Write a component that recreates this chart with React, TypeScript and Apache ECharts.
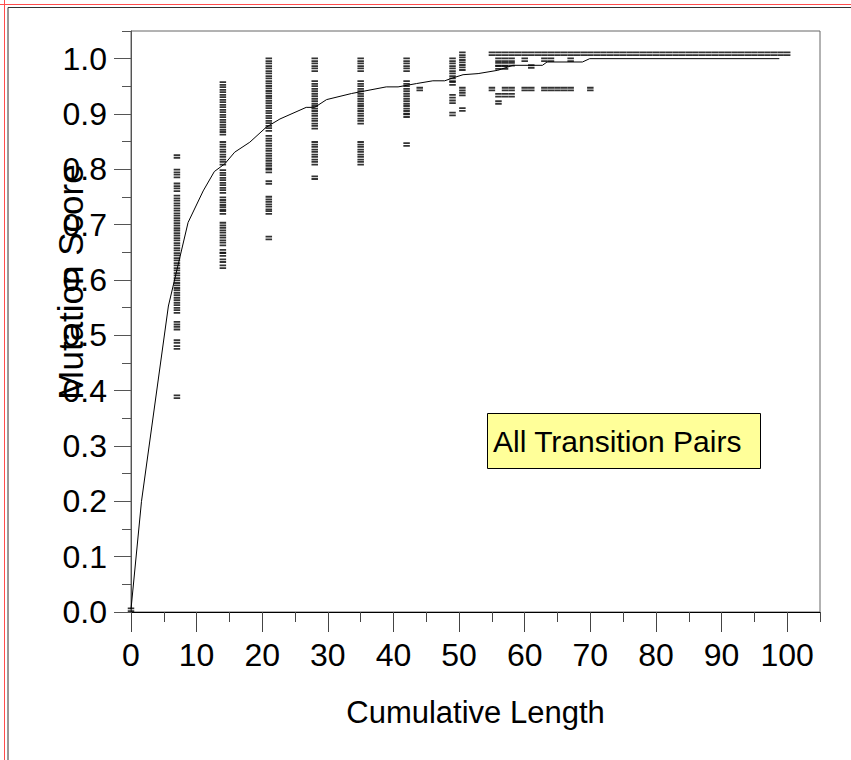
import React, { useEffect, useRef } from "react";
import * as echarts from "echarts";

// ---- Data ----
const xMajorTicks = [0, 10, 20, 30, 40, 50, 60, 70, 80, 90, 100];
const yMajorTicks = [0, 0.1, 0.2, 0.3, 0.4, 0.5, 0.6, 0.7, 0.8, 0.9, 1.0];

const col0 = [0.004];
const col7 = [0.823, 0.797, 0.788, 0.772, 0.763, 0.75, 0.741, 0.732, 0.723, 0.714, 0.705, 0.696, 0.687, 0.678, 0.669, 0.66, 0.651, 0.642, 0.633, 0.624, 0.615, 0.606, 0.597, 0.588, 0.579, 0.57, 0.561, 0.552, 0.543, 0.522, 0.513, 0.489, 0.478, 0.389];
const col14 = [0.955, 0.946, 0.937, 0.928, 0.919, 0.91, 0.901, 0.892, 0.883, 0.874, 0.865, 0.847, 0.838, 0.829, 0.82, 0.811, 0.796, 0.787, 0.778, 0.769, 0.76, 0.747, 0.738, 0.729, 0.722, 0.701, 0.692, 0.683, 0.674, 0.665, 0.652, 0.646, 0.635, 0.624];
const col21 = [0.998, 0.989, 0.98, 0.971, 0.962, 0.953, 0.944, 0.935, 0.926, 0.917, 0.908, 0.899, 0.89, 0.881, 0.872, 0.858, 0.849, 0.84, 0.831, 0.822, 0.813, 0.804, 0.797, 0.776, 0.748, 0.739, 0.73, 0.722, 0.676];
const col28 = [0.998, 0.989, 0.98, 0.957, 0.948, 0.939, 0.93, 0.921, 0.912, 0.903, 0.894, 0.885, 0.876, 0.847, 0.838, 0.829, 0.82, 0.811, 0.785];
const col35 = [0.998, 0.989, 0.98, 0.957, 0.948, 0.939, 0.93, 0.921, 0.912, 0.903, 0.894, 0.885, 0.847, 0.838, 0.829, 0.82, 0.811];
const col42 = [0.998, 0.989, 0.98, 0.957, 0.948, 0.939, 0.93, 0.921, 0.912, 0.903, 0.897, 0.845];
const col44 = [0.945];
const col49 = [0.998, 0.989, 0.98, 0.971, 0.962, 0.955, 0.932, 0.922, 0.9];
const col50 = [1.009, 1.0, 0.991, 0.982, 0.945, 0.936, 0.908];

const columnX = [0, 7, 14, 21, 28, 35, 42, 44, 49, 50.5];
const columnValues = [col0, col7, col14, col21, col28, col35, col42, col44, col49, col50];

const tailX = [55, 56, 57, 58, 59, 60, 61, 62, 63, 64, 65, 66, 67, 68, 69, 70, 71, 72, 73, 74, 75, 76, 77, 78, 79, 80, 81, 82, 83, 84, 85, 86, 87, 88, 89, 90, 91, 92, 93, 94, 95, 96, 97, 98, 99, 100];
const tailValue = 1.009;

const tailExtra: [number, number][] = [
  [56, 0.998], [57, 0.998], [58, 0.998], [60, 0.998], [63, 0.998], [64, 0.998], [67, 0.998],
  [56, 0.99], [57, 0.99], [58, 0.99],
  [56, 0.984], [57, 0.984], [61, 0.986],
  [55, 0.945], [57, 0.945], [58, 0.945], [60, 0.945], [61, 0.945], [63, 0.945], [64, 0.945], [65, 0.945], [66, 0.945], [67, 0.945], [70, 0.945],
  [56, 0.934], [57, 0.934], [58, 0.934],
  [56, 0.921],
];

const meanX = [0, 1.6, 5.7, 8.7, 11, 12.7, 14.3, 15.8, 18.1, 20.6, 22.7, 26.7, 28, 29.8, 33.6, 38.9, 40.7, 43.5, 46, 47.8, 49, 50.6, 52.9, 55.9, 58.2, 62.7, 63.4, 68.8, 69.9, 98.8];
const meanY = [0.005, 0.2, 0.553, 0.704, 0.761, 0.796, 0.81, 0.831, 0.849, 0.876, 0.891, 0.912, 0.912, 0.926, 0.937, 0.949, 0.949, 0.955, 0.96, 0.96, 0.965, 0.971, 0.973, 0.979, 0.988, 0.988, 0.994, 0.994, 1.0, 1.0];

const FONT = "'Liberation Sans', Arial, sans-serif";

export default function App() {
  const ref = useRef<HTMLDivElement>(null);

  useEffect(() => {
    if (!ref.current) return;
    const chart = echarts.init(ref.current, undefined, { renderer: "svg" });

    const scatterData: number[][] = [];
    columnX.forEach((x, i) => {
      columnValues[i].forEach((v) => scatterData.push([x, v]));
    });
    tailX.forEach((x) => scatterData.push([x, tailValue]));
    tailExtra.forEach((p) => scatterData.push([p[0], p[1]]));

    const lineData = meanX.map((x, i) => [x, meanY[i]]);

    const option: any = {
      animation: false,
      backgroundColor: "#fff",
      grid: {
        left: 131,
        right: 31,
        top: 31,
        bottom: 148,
        show: true,
        borderColor: "#666",
        borderWidth: 1,
        backgroundColor: "transparent",
      },
      xAxis: [
        {
          type: "value",
          position: "bottom",
          min: 0,
          max: 105,
          interval: 5,
          axisLine: { show: true, onZero: false, lineStyle: { color: "#000", width: 1 } },
          axisTick: { show: true, length: 10, lineStyle: { color: "#444" } },
          axisLabel: {
            margin: 27,
            fontSize: 32,
            fontFamily: FONT,
            color: "#000",
            formatter: (v: number) => (Math.round(v) % 10 === 0 ? String(Math.round(v)) : ""),
          },
          splitLine: { show: false },
          name: "Cumulative Length",
          nameLocation: "middle",
          nameGap: 85,
          nameMoveOverlap: false,
          nameTextStyle: { fontSize: 31, fontFamily: FONT, color: "#000" },
        },
        {
          type: "value",
          position: "bottom",
          min: 0,
          max: 105,
          interval: 10,
          axisLine: { show: false, onZero: false },
          axisTick: { show: true, length: 20, customValues: xMajorTicks, lineStyle: { color: "#444" } },
          axisLabel: { show: false },
          splitLine: { show: false },
        },
      ],
      yAxis: [
        {
          type: "value",
          position: "left",
          min: 0,
          max: 1.05,
          interval: 0.05,
          axisLine: { show: true, onZero: false, lineStyle: { color: "#555", width: 1 } },
          axisTick: { show: true, length: 9, lineStyle: { color: "#555" } },
          axisLabel: {
            margin: 24,
            fontSize: 32,
            fontFamily: FONT,
            color: "#000",
            formatter: (v: number) => (Math.round(v * 100) % 10 === 0 ? v.toFixed(1) : ""),
          },
          splitLine: { show: false },
        },
        {
          type: "value",
          position: "left",
          min: 0,
          max: 1.05,
          interval: 0.1,
          axisLine: { show: false, onZero: false },
          axisTick: { show: true, length: 17, customValues: yMajorTicks, lineStyle: { color: "#555" } },
          axisLabel: { show: false },
          splitLine: { show: false },
        },
      ],
      series: [
        {
          type: "scatter",
          xAxisIndex: 0,
          yAxisIndex: 0,
          data: scatterData,
          symbol: "path://M0 0H10V2H0Z M0 3H10V5H0Z",
          symbolSize: [6.5, 4.5],
          itemStyle: { color: "#000" },
          silent: true,
        },
        {
          type: "line",
          xAxisIndex: 0,
          yAxisIndex: 0,
          data: lineData,
          showSymbol: false,
          symbol: "none",
          lineStyle: { color: "#000", width: 1 },
          silent: true,
        },
      ],
      graphic: [
        { type: "line", shape: { x1: 0, y1: 4.5, x2: 851, y2: 4.5 }, style: { stroke: "#ff4d4d", lineWidth: 1 } },
        { type: "line", shape: { x1: 4.5, y1: 0, x2: 4.5, y2: 760 }, style: { stroke: "#ff4d4d", lineWidth: 1 } },
        { type: "polyline", shape: { points: [[8, 760], [8, 7.5], [851, 7.5]] }, style: { stroke: "#333", lineWidth: 1, fill: null } },
        {
          type: "text",
          x: 70,
          y: 282,
          rotation: Math.PI / 2,
          z: 12,
          style: { text: "Mutation Score", fontSize: 35, fontFamily: FONT, fill: "#000", align: "center", verticalAlign: "middle" },
        },
        {
          type: "rect",
          shape: { x: 487.5, y: 413.5, width: 273, height: 55 },
          style: { fill: "#ffff99", stroke: "#000", lineWidth: 1 },
          z: 10,
        },
        {
          type: "text",
          x: 493,
          y: 441,
          z: 11,
          style: { text: "All Transition Pairs", fontSize: 30, fontFamily: FONT, fill: "#000", align: "left", verticalAlign: "middle" },
        },
      ],
    };

    chart.setOption(option);
    return () => chart.dispose();
  }, []);

  return (
    <div
      ref={ref}
      style={{ position: "absolute", left: 0, top: 0, width: 851, height: 760 }}
    />
  );
}
